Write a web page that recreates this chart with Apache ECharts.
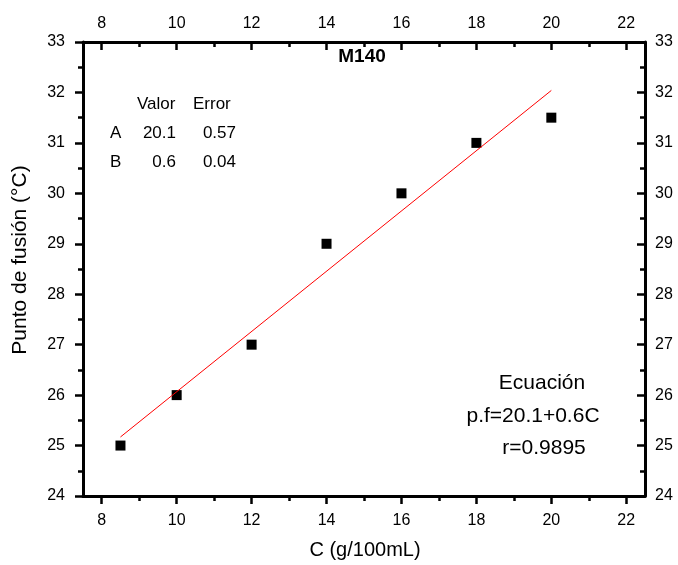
<!DOCTYPE html>
<html>
<head>
<meta charset="utf-8">
<script src="https://cdn.jsdelivr.net/npm/echarts@6/dist/echarts.min.js"></script>
<style>
html,body{margin:0;padding:0;background:#fff;}
#chart{width:678px;height:565px;}
</style>
</head>
<body>
<div id="chart"></div>
<script>
// ---- data ----
const concX = [8.5, 10, 12, 14, 16, 18, 20];
const meltY = [25, 26, 27, 29, 30, 31, 31.5];
const fitX = [8.5, 20];
const fitY = [25.17, 32.04];
const xMajorTicks = [8, 10, 12, 14, 16, 18, 20, 22];
const xMinorTicks = [9, 11, 13, 15, 17, 19, 21];
const chartTitle = 'M140';
const xTitle = 'C (g/100mL)';
const yTitle = 'Punto de fusión (°C)';
const tableHeader = ['Valor', 'Error'];
const tableRows = [['A', '20.1', '0.57'], ['B', '0.6', '0.04']];
const eqLines = ['Ecuación', 'p.f=20.1+0.6C', 'r=0.9895'];

const FONT = '"Liberation Sans", Arial, sans-serif';
const black = '#000';
const gridRect = {left: 83, right: 33, top: 42, bottom: 69};

function xAxisMajor(pos) {
  const top = pos === 'top';
  return {
    type: 'value', gridIndex: 0, position: pos, min: 7.5, max: 22.5,
    axisLine: {show: true, onZero: false, lineStyle: {color: black, width: 3}},
    axisTick: {show: true, customValues: xMajorTicks, inside: top, length: 8, lineStyle: {color: black, width: 2.5}},
    axisLabel: {show: true, customValues: xMajorTicks, color: black, fontSize: 16, fontFamily: FONT, margin: top ? 10 : 17},
    splitLine: {show: false}
  };
}
function xAxisMinor(pos) {
  const top = pos === 'top';
  return {
    type: 'value', gridIndex: 1, position: pos, min: 7.5, max: 22.5,
    axisLine: {show: true, onZero: false, lineStyle: {color: 'rgba(0,0,0,0)', width: 1}},
    axisTick: {show: true, customValues: xMinorTicks, inside: top, length: 5, lineStyle: {color: black, width: 2.5}},
    axisLabel: {show: true, customValues: xMinorTicks, color: 'rgba(0,0,0,0)', fontSize: 10},
    splitLine: {show: false}
  };
}
function yAxisMain(pos) {
  const right = pos === 'right';
  return {
    type: 'value', gridIndex: 0, position: pos, min: 24, max: 33, interval: 1,
    axisLine: {show: true, onZero: false, lineStyle: {color: black, width: 3}},
    axisTick: {show: true, inside: right, length: 8, lineStyle: {color: black, width: 2.5}},
    minorTick: {show: true, splitNumber: 2, length: 5, lineStyle: {color: black, width: 2.5}},
    axisLabel: {color: black, fontSize: 16, fontFamily: FONT, margin: right ? 10 : 18},
    splitLine: {show: false}
  };
}

const option = {
  animation: false,
  backgroundColor: '#fff',
  grid: [
    Object.assign({}, gridRect),
    Object.assign({}, gridRect)
  ],
  xAxis: [xAxisMajor('bottom'), xAxisMajor('top'), xAxisMinor('bottom'), xAxisMinor('top')],
  yAxis: [yAxisMain('left'), yAxisMain('right'),
    {type: 'value', gridIndex: 1, min: 24, max: 33, axisLine: {show: false}, axisTick: {show: false}, axisLabel: {show: false}, splitLine: {show: false}}],
  series: [
    {
      type: 'line', xAxisIndex: 0, yAxisIndex: 0,
      data: fitX.map((x, i) => [x, fitY[i]]),
      showSymbol: false, symbol: 'none',
      lineStyle: {color: '#ff0000', width: 1}
    },
    {
      type: 'scatter', xAxisIndex: 0, yAxisIndex: 0,
      data: concX.map((x, i) => [x, meltY[i]]),
      symbol: 'rect', symbolSize: 10,
      itemStyle: {color: black, opacity: 1}
    }
  ],
  graphic: [
    {type: 'text', x: 362, y: 57, style: {text: chartTitle, font: 'bold 19px ' + FONT, fill: black, align: 'center', verticalAlign: 'middle', textAlign: 'center', textVerticalAlign: 'middle'}},
    {type: 'text', x: 365, y: 550, style: {text: xTitle, font: '20px ' + FONT, fill: black, align: 'center', verticalAlign: 'middle', textAlign: 'center', textVerticalAlign: 'middle'}},
    {type: 'text', x: 20, y: 260, rotation: Math.PI / 2, style: {text: yTitle, font: '21px ' + FONT, fill: black, align: 'center', verticalAlign: 'middle', textAlign: 'center', textVerticalAlign: 'middle'}},
    {type: 'text', x: 137, y: 104, style: {text: tableHeader[0], font: '17px ' + FONT, fill: black, align: 'left', verticalAlign: 'middle', textAlign: 'left', textVerticalAlign: 'middle'}},
    {type: 'text', x: 193, y: 104, style: {text: tableHeader[1], font: '17px ' + FONT, fill: black, align: 'left', verticalAlign: 'middle', textAlign: 'left', textVerticalAlign: 'middle'}},
    {type: 'text', x: 110, y: 133, style: {text: tableRows[0][0], font: '17px ' + FONT, fill: black, align: 'left', verticalAlign: 'middle', textAlign: 'left', textVerticalAlign: 'middle'}},
    {type: 'text', x: 176, y: 133, style: {text: tableRows[0][1], font: '17px ' + FONT, fill: black, align: 'right', verticalAlign: 'middle', textAlign: 'right', textVerticalAlign: 'middle'}},
    {type: 'text', x: 236, y: 133, style: {text: tableRows[0][2], font: '17px ' + FONT, fill: black, align: 'right', verticalAlign: 'middle', textAlign: 'right', textVerticalAlign: 'middle'}},
    {type: 'text', x: 110, y: 162, style: {text: tableRows[1][0], font: '17px ' + FONT, fill: black, align: 'left', verticalAlign: 'middle', textAlign: 'left', textVerticalAlign: 'middle'}},
    {type: 'text', x: 176, y: 162, style: {text: tableRows[1][1], font: '17px ' + FONT, fill: black, align: 'right', verticalAlign: 'middle', textAlign: 'right', textVerticalAlign: 'middle'}},
    {type: 'text', x: 236, y: 162, style: {text: tableRows[1][2], font: '17px ' + FONT, fill: black, align: 'right', verticalAlign: 'middle', textAlign: 'right', textVerticalAlign: 'middle'}},
    {type: 'text', x: 542, y: 383, style: {text: eqLines[0], font: '21px ' + FONT, fill: black, align: 'center', verticalAlign: 'middle', textAlign: 'center', textVerticalAlign: 'middle'}},
    {type: 'text', x: 533, y: 416, style: {text: eqLines[1], font: '21px ' + FONT, fill: black, align: 'center', verticalAlign: 'middle', textAlign: 'center', textVerticalAlign: 'middle'}},
    {type: 'text', x: 544, y: 448, style: {text: eqLines[2], font: '21px ' + FONT, fill: black, align: 'center', verticalAlign: 'middle', textAlign: 'center', textVerticalAlign: 'middle'}}
  ]
};

const chart = echarts.init(document.getElementById('chart'), null, {renderer: 'canvas'});
chart.setOption(option);
</script>
</body>
</html>
